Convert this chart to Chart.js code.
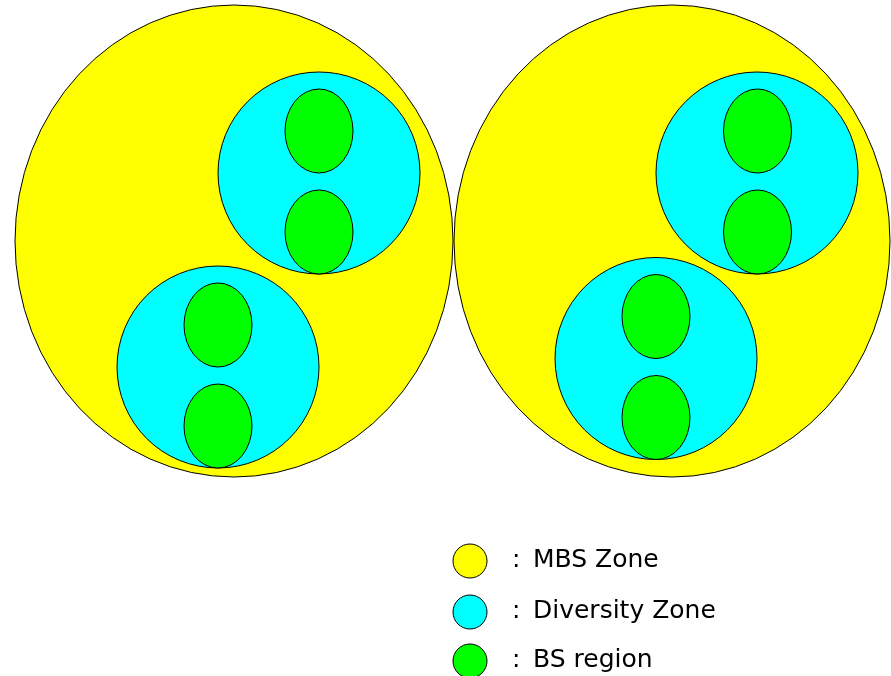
<!DOCTYPE html>
<html>
<head>
<meta charset="utf-8">
<script src="https://cdn.jsdelivr.net/npm/chart.js@4"></script>
<style>
  html, body { margin: 0; padding: 0; background: #fff; }
  #wrap { width: 891px; height: 676px; position: relative; }
</style>
</head>
<body>
<div id="wrap"><canvas id="myChart"></canvas></div>
<script>
// zone labels and colours
const zoneLabels = ['MBS Zone', 'Diversity Zone', 'BS region'];
const zoneColors = ['#ffff00', '#00ffff', '#00ff00'];

// ellipses: centre (x, y) and half-width / half-height, in map units
const mbsZones = [
    { x: 234, y: 241, rx: 219, ry: 236 },
    { x: 672, y: 241, rx: 218, ry: 236 }
];
const diversityZones = [
    { x: 319, y: 173, rx: 101, ry: 101 },
    { x: 218, y: 367, rx: 101, ry: 101 },
    { x: 757, y: 173, rx: 101, ry: 101 },
    { x: 656, y: 358.5, rx: 101, ry: 101 }
];
const bsRegions = [
    { x: 319, y: 131, rx: 34, ry: 42 },
    { x: 319, y: 232, rx: 34, ry: 42 },
    { x: 218, y: 325, rx: 34, ry: 42 },
    { x: 218, y: 426, rx: 34, ry: 42 },
    { x: 757.5, y: 131, rx: 34, ry: 42 },
    { x: 757.5, y: 232, rx: 34, ry: 42 },
    { x: 656, y: 316.5, rx: 34, ry: 42 },
    { x: 656, y: 417.5, rx: 34, ry: 42 }
];

// draws each data point as an ellipse through the scales
const ellipsePlugin = {
    id: 'ellipses',
    afterDatasetsDraw(chart) {
        const ctx = chart.ctx;
        const xs = chart.scales.x, ys = chart.scales.y;
        ctx.save();
        chart.data.datasets.forEach(ds => {
            ds.data.forEach(p => {
                const cx = xs.getPixelForValue(p.x);
                const cy = ys.getPixelForValue(p.y);
                const rx = Math.abs(xs.getPixelForValue(p.x + p.rx) - cx);
                const ry = Math.abs(ys.getPixelForValue(p.y + p.ry) - cy);
                ctx.beginPath();
                ctx.ellipse(cx, cy, rx, ry, 0, 0, Math.PI * 2);
                ctx.fillStyle = ds.backgroundColor;
                ctx.fill();
                ctx.lineWidth = 1;
                ctx.strokeStyle = '#000';
                ctx.stroke();
            });
        });
        ctx.restore();
    },
    afterDraw(chart) {
        // legend in the lower right
        const ctx = chart.ctx;
        ctx.save();
        const rows = [561, 612, 661];
        chart.data.datasets.forEach((ds, i) => {
            ctx.beginPath();
            ctx.arc(470, rows[i], 17, 0, Math.PI * 2);
            ctx.fillStyle = ds.backgroundColor;
            ctx.fill();
            ctx.lineWidth = 1;
            ctx.strokeStyle = '#000';
            ctx.stroke();
            ctx.fillStyle = '#000';
            ctx.font = '25px "DejaVu Sans"';
            ctx.textBaseline = 'middle';
            ctx.fillText(':', 512, rows[i] - 1);
            ctx.fillText(ds.label, 533, rows[i] - 1);
        });
        ctx.restore();
    }
};

const ctx = document.getElementById('myChart').getContext('2d');
const myChart = new Chart(ctx, {
    type: 'scatter',
    data: {
        datasets: [
            { label: zoneLabels[0], data: mbsZones, backgroundColor: zoneColors[0], pointRadius: 0 },
            { label: zoneLabels[1], data: diversityZones, backgroundColor: zoneColors[1], pointRadius: 0 },
            { label: zoneLabels[2], data: bsRegions, backgroundColor: zoneColors[2], pointRadius: 0 }
        ]
    },
    options: {
        responsive: true,
        maintainAspectRatio: false,
        animation: false,
        layout: { padding: 0 },
        plugins: { legend: { display: false }, tooltip: { enabled: false } },
        scales: {
            x: { type: 'linear', min: 0, max: 891, display: false },
            y: { type: 'linear', min: 0, max: 676, reverse: true, display: false }
        }
    },
    plugins: [ellipsePlugin]
});
</script>
</body>
</html>
